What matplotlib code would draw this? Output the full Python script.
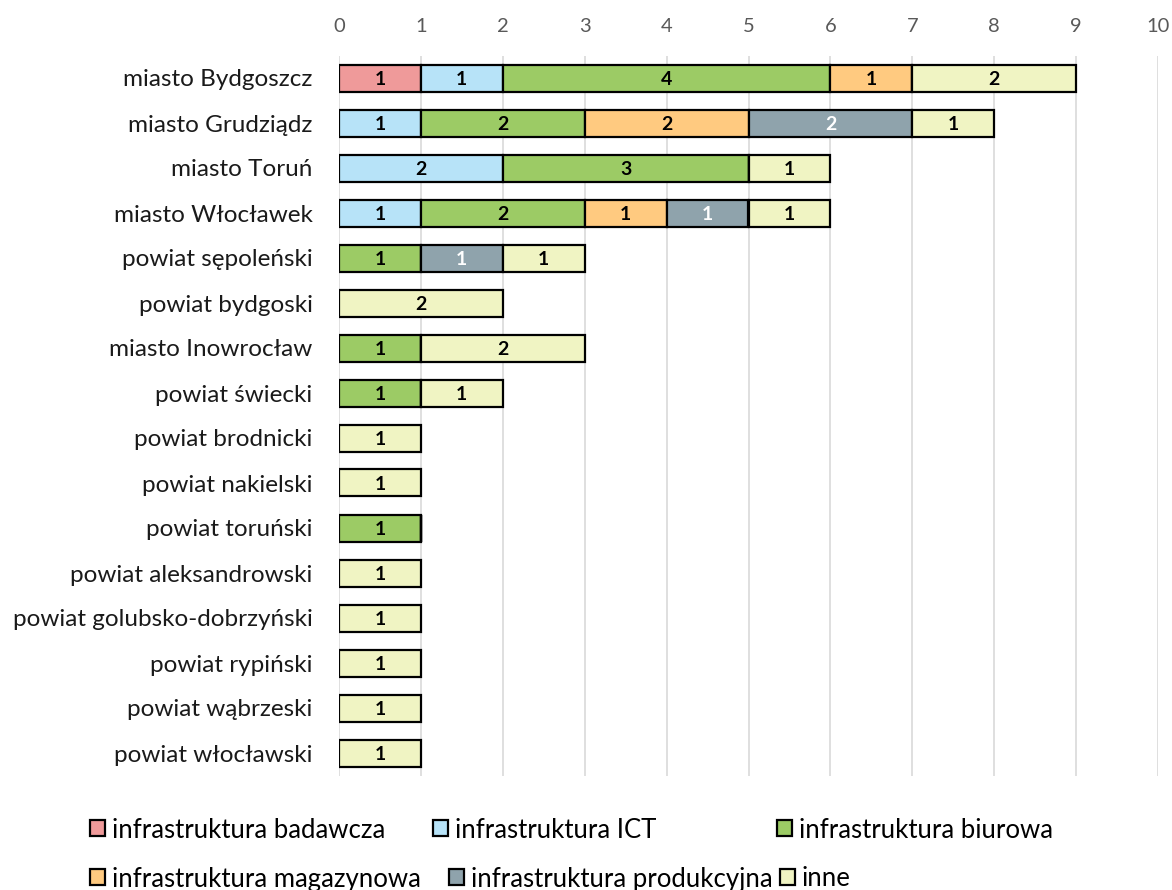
import matplotlib
matplotlib.use("Agg")
import matplotlib.pyplot as plt
from matplotlib.patches import Patch
import numpy as np

plt.rcParams['font.family'] = ['Lato', 'DejaVu Sans']

categories = ["miasto Bydgoszcz", "miasto Grudziądz", "miasto Toruń", "miasto Włocławek",
              "powiat sępoleński", "powiat bydgoski", "miasto Inowrocław", "powiat świecki",
              "powiat brodnicki", "powiat nakielski", "powiat toruński", "powiat aleksandrowski",
              "powiat golubsko-dobrzyński", "powiat rypiński", "powiat wąbrzeski", "powiat włocławski"]

series_names = ["infrastruktura badawcza", "infrastruktura ICT", "infrastruktura biurowa",
                "infrastruktura magazynowa", "infrastruktura produkcyjna", "inne"]

badawcza    = [1, 0, 0, 0, 0, 0, 0, 0, 0, 0, 0, 0, 0, 0, 0, 0]
ict         = [1, 1, 2, 1, 0, 0, 0, 0, 0, 0, 0, 0, 0, 0, 0, 0]
biurowa     = [4, 2, 3, 2, 1, 0, 1, 1, 0, 0, 1, 0, 0, 0, 0, 0]
magazynowa  = [1, 2, 0, 1, 0, 0, 0, 0, 0, 0, 0, 0, 0, 0, 0, 0]
produkcyjna = [0, 2, 0, 1, 1, 0, 0, 0, 0, 0, 0, 0, 0, 0, 0, 0]
inne        = [2, 1, 1, 1, 1, 2, 2, 1, 1, 1, 0, 1, 1, 1, 1, 1]

series = [badawcza, ict, biurowa, magazynowa, produkcyjna, inne]
colors = ["#EF9A9A", "#B7E3F8", "#9CCB65", "#FFCA80", "#8FA3AC", "#F0F4C3"]
text_colors = ["black", "black", "black", "black", "white", "black"]

fig = plt.figure(figsize=(11.72, 8.90), dpi=100)
ax = fig.add_axes([339/1172, 1-775.5/890, (1158-339)/1172, (775.5-55.5)/890])

y = np.arange(len(categories))
left = np.zeros(len(categories))
for vals, col, tc, name in zip(series, colors, text_colors, series_names):
    vals = np.array(vals, dtype=float)
    bars = ax.barh(y, vals, left=left, height=0.6, color=col, edgecolor="black",
                   linewidth=1.6, label=name, zorder=3)
    for b, v in zip(bars, vals):
        if v > 0:
            ax.text(b.get_x() + b.get_width()/2, b.get_y() + b.get_height()/2 + 0.03,
                    f"{int(v)}", ha="center", va="center", fontsize=14,
                    fontweight="bold", color=tc, zorder=4)
    left += vals

ax.set_xlim(0, 10)
ax.set_ylim(len(categories) - 0.5, -0.5)
ax.set_xticks(range(0, 11))
ax.xaxis.tick_top()
ax.tick_params(axis="x", length=0, labelsize=14.5, colors="#595959", pad=15)
ax.tick_params(axis="y", length=0, labelsize=17.5, pad=19)
ax.set_yticks(y)
ax.set_yticklabels(categories, color="#1a1a1a")
ax.grid(axis="x", color="#D9D9D9", linewidth=1.2, zorder=0)
ax.set_axisbelow(True)
for s in ax.spines.values():
    s.set_visible(False)

# legend entries placed as in the reference
positions = [(90, 830), (433, 830), (777, 830), (90, 879), (449, 879), (780, 879)]
for (px, py), name, col in zip(positions, series_names, colors):
    h = Patch(facecolor=col, edgecolor="black", linewidth=1.6)
    leg = fig.legend([h], [name], loc="center left",
                     bbox_to_anchor=(px/1172, 1-py/890), frameon=False,
                     fontsize=18.5, handlelength=0.58, handleheight=0.58,
                     handletextpad=0.27, borderpad=0, borderaxespad=0)

fig.savefig("out.png", dpi=100)
